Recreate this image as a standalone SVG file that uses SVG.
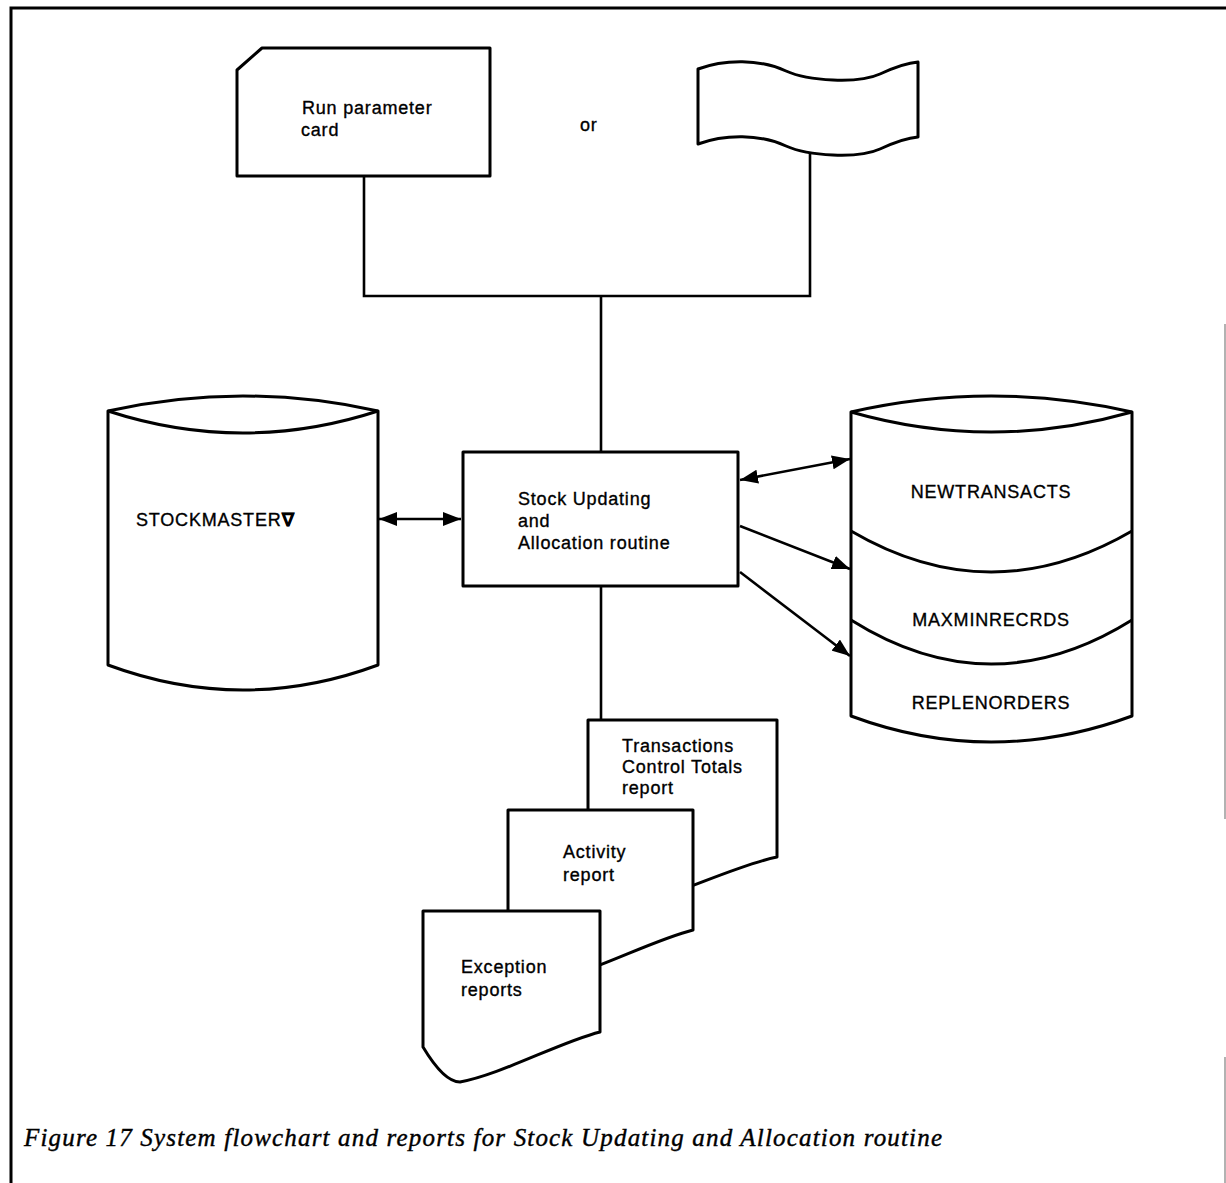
<svg xmlns="http://www.w3.org/2000/svg" width="1226" height="1183" viewBox="0 0 1226 1183">
  <style>
    .shape { fill: #fff; stroke: #000; stroke-width: 3; stroke-linejoin: round; }
    .edge { fill: none; stroke: #000; stroke-width: 3; }
    .link { fill: none; stroke: #000; stroke-width: 2.6; }
    .lbl { font-family: "Liberation Sans", Arial, sans-serif; font-size: 18px; letter-spacing: 0.8px; fill: #000; stroke: #000; stroke-width: 0.35px; }
    .mid { text-anchor: middle; }
    .cap { font-family: "Liberation Serif", "Times New Roman", serif; font-style: italic; font-size: 25px; fill: #000; stroke: #000; stroke-width: 0.4px; }
  </style>
  <defs>
    <marker id="head" markerUnits="userSpaceOnUse" markerWidth="19" markerHeight="14" refX="18" refY="7" orient="auto-start-reverse">
      <path d="M0,0 L18,7 L0,14 Z" fill="#000"/>
    </marker>
  </defs>

  <rect width="1226" height="1183" fill="#fff"/>

  <!-- page frame -->
  <g id="frame">
    <path d="M11,1183 V8 H1226" fill="none" stroke="#000" stroke-width="3"/>
    <path d="M1225,324 V819 M1225,1057 V1183" fill="none" stroke="#999" stroke-width="1.5"/>
  </g>

  <!-- connectors -->
  <g id="connectors">
    <path class="link" d="M364,176 V296 H810 V153"/>
    <path class="link" d="M601,296 V452"/>
    <path class="link" d="M601,586 V720"/>
    <path class="link" d="M379,519 H461" marker-start="url(#head)" marker-end="url(#head)"/>
    <path class="link" d="M740,480 L850,459" marker-start="url(#head)" marker-end="url(#head)"/>
    <path class="link" d="M740,526 L850,569" marker-end="url(#head)"/>
    <path class="link" d="M740,572 L850,656" marker-end="url(#head)"/>
  </g>

  <!-- run parameter card -->
  <g id="card">
    <path class="shape" d="M237,70 L262,48 H490 V176 H237 Z"/>
    <text class="lbl" x="302" y="114">Run parameter</text>
    <text class="lbl" x="301" y="136">card</text>
  </g>

  <text id="or" class="lbl" x="580" y="131">or</text>

  <!-- punched tape -->
  <g id="tape">
    <path class="shape" d="M698,69 C725,59 760,59 786,71 C808,81 858,84 880,74 C893,68 905,63 918,62 V137 C905,138 893,143 880,149 C858,159 808,156 786,146 C760,134 725,134 698,144 Z"/>
  </g>

  <!-- stock master file -->
  <g id="stockmaster">
    <path class="shape" d="M108,411 Q243,381 378,411 V665 Q243,715 108,665 Z"/>
    <path class="edge" d="M108,411 Q243,455 378,411"/>
    <text class="lbl" x="136" y="526">STOCKMASTER<tspan font-weight="bold">∇</tspan></text>
  </g>

  <!-- processing routine -->
  <g id="routine">
    <rect class="shape" x="463" y="452" width="275" height="134"/>
    <text class="lbl" x="518" y="505">Stock Updating</text>
    <text class="lbl" x="518" y="527">and</text>
    <text class="lbl" x="518" y="549">Allocation routine</text>
  </g>

  <!-- output files -->
  <g id="outfiles">
    <path class="shape" d="M851,412 Q991,380 1132,412 V716 Q991,768 851,716 Z"/>
    <path class="edge" d="M851,412 Q991,452 1132,412"/>
    <path class="edge" d="M851,531 Q991,613 1132,531"/>
    <path class="edge" d="M851,620 Q991,708 1132,620"/>
    <text class="lbl mid" x="991" y="498">NEWTRANSACTS</text>
    <text class="lbl mid" x="991" y="626">MAXMINRECRDS</text>
    <text class="lbl mid" x="991" y="709">REPLENORDERS</text>
  </g>

  <!-- printed reports -->
  <g id="report-totals">
    <path class="shape" d="M588,720 H777 V857 C737,865 677,895 637,904 Q610,905 588,870 Z"/>
    <text class="lbl" x="622" y="752">Transactions</text>
    <text class="lbl" x="622" y="773">Control Totals</text>
    <text class="lbl" x="622" y="794">report</text>
  </g>
  <g id="report-activity">
    <path class="shape" d="M508,810 H693 V930 C653,940 593,972 553,980 Q528,982 508,948 Z"/>
    <text class="lbl" x="563" y="858">Activity</text>
    <text class="lbl" x="563" y="881">report</text>
  </g>
  <g id="report-exception">
    <path class="shape" d="M423,911 H600 V1032 C560,1042 500,1075 460,1082 Q444,1082 423,1047 Z"/>
    <text class="lbl" x="461" y="973">Exception</text>
    <text class="lbl" x="461" y="996">reports</text>
  </g>

  <text id="caption" class="cap" x="24" y="1146" textLength="918" lengthAdjust="spacing">Figure 17  System flowchart and reports for Stock Updating and Allocation routine</text>
</svg>
